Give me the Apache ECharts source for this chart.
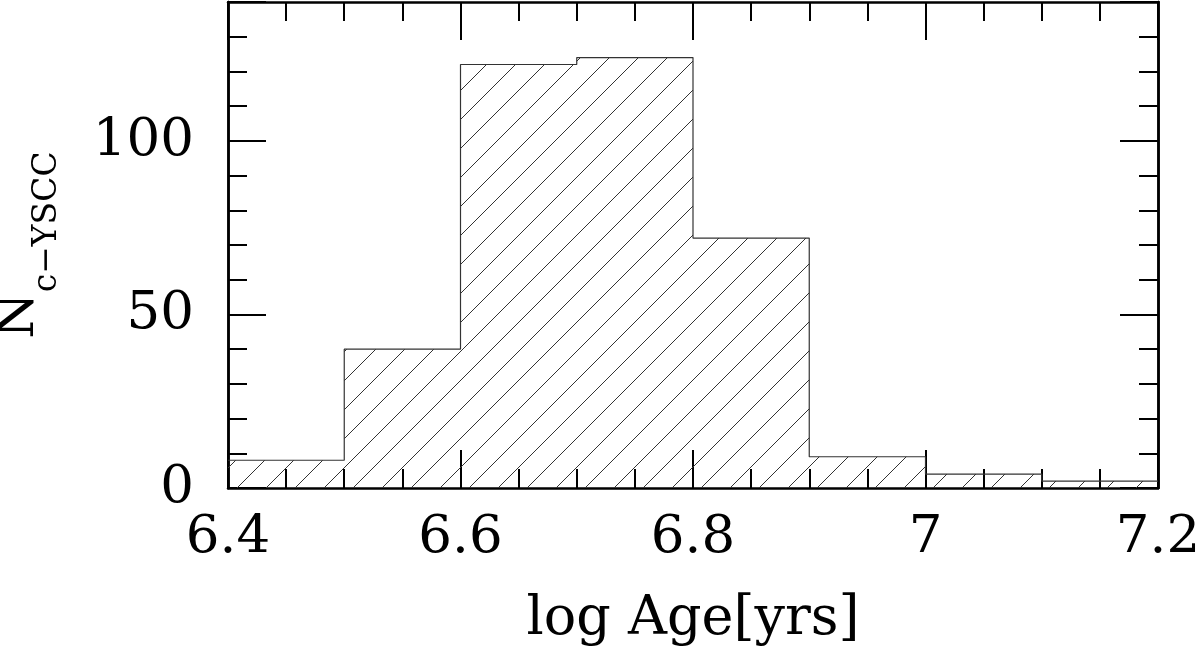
<!DOCTYPE html>
<html>
<head>
<meta charset="utf-8">
<style>
  html, body { margin: 0; padding: 0; background: #fff; }
  #main { width: 1200px; height: 653px; }
</style>
<script src="https://cdn.jsdelivr.net/npm/echarts@6/dist/echarts.min.js"></script>
</head>
<body>
<div id="main"></div>
<script>
// histogram bins (log age) and counts per bin
const binEdges = [6.4, 6.5, 6.6, 6.7, 6.8, 6.9, 7.0, 7.1, 7.2];
const counts = [8, 40, 122, 124, 72, 9, 4, 2];
const xTicks = [6.4, 6.6, 6.8, 7.0, 7.2];

const FONT = 'DejaVu Serif';

// step outline points: each bin starts at its left edge, last point closes at the right edge
const stepData = counts.map((c, i) => [binEdges[i], c]);
stepData.push([binEdges[binEdges.length - 1], counts[counts.length - 1]]);

// diagonal hatch pattern
const hatch = (() => {
    const s = 29;
    const c = document.createElement('canvas');
    c.width = s; c.height = s;
    const ctx = c.getContext('2d');
    ctx.strokeStyle = '#333';
    ctx.lineWidth = 1;
    ctx.beginPath();
    ctx.moveTo(-s, s); ctx.lineTo(s, -s);
    ctx.moveTo(0, s); ctx.lineTo(s, 0);
    ctx.moveTo(0, 2 * s); ctx.lineTo(2 * s, 0);
    ctx.stroke();
    return c;
})();

const frameLine = { show: true, onZero: false, lineStyle: { color: '#000', width: 2.5 } };

const xBase = (pos, labels) => ({
    type: 'value',
    position: pos,
    min: 6.4,
    max: 7.2,
    interval: 0.2,
    axisLine: frameLine,
    axisTick: { show: true, inside: true, length: 38, lineStyle: { color: '#000', width: 2 } },
    minorTick: { show: true, splitNumber: 4, length: 19, lineStyle: { color: '#000', width: 2 } },
    splitLine: { show: false },
    minorSplitLine: { show: false },
    axisLabel: {
        show: labels,
        margin: 24,
        fontFamily: FONT,
        fontSize: 53,
        color: '#000',
        formatter: (v) => {
            const t = xTicks.find(x => Math.abs(x - v) < 1e-6);
            return t === undefined ? '' : String(+t.toFixed(1));
        }
    }
});

const yBase = (pos, interval, len, labels) => ({
    type: 'value',
    position: pos,
    min: 0,
    max: 140,
    interval: interval,
    axisLine: frameLine,
    axisTick: { show: true, inside: true, length: len, lineStyle: { color: '#000', width: 2 } },
    splitLine: { show: false },
    axisLabel: {
        show: labels,
        margin: 34,
        fontFamily: FONT,
        fontSize: 53,
        color: '#000',
        formatter: (v) => (v % 50 === 0 ? String(v) : '')
    }
});

var chartDom = document.getElementById('main');
var myChart = echarts.init(chartDom);
var option;

option = {
    animation: false,
    backgroundColor: '#fff',
    grid: { left: 228, right: 42, top: 2, bottom: 165, containLabel: false, outerBoundsMode: 'none' },
    xAxis: [
        Object.assign(xBase('bottom', true), {
            name: 'log Age[yrs]',
            nameLocation: 'middle',
            nameGap: 105,
            nameMoveOverlap: false,
            nameTextStyle: { fontFamily: FONT, fontSize: 54, color: '#000' }
        }),
        xBase('top', false)
    ],
    yAxis: [
        yBase('left', 10, 19, false),
        Object.assign(yBase('left', 50, 38, true), {
            name: '{n|N}{s|c\u2212YSCC}',
            nameLocation: 'middle',
            nameRotate: 90,
            nameGap: 164,
            nameMoveOverlap: false,
            nameTextStyle: {
                color: '#000',
                rich: {
                    n: { fontFamily: FONT, fontSize: 53, color: '#000', verticalAlign: 'bottom', padding: [0, 0, 18, 0] },
                    s: { fontFamily: FONT, fontSize: 33, color: '#000', verticalAlign: 'bottom' }
                }
            }
        }),
        yBase('right', 10, 19, false),
        yBase('right', 50, 38, false)
    ],
    series: [
        {
            type: 'line',
            xAxisIndex: 0,
            yAxisIndex: 0,
            step: 'end',
            data: stepData,
            showSymbol: false,
            symbol: 'none',
            lineStyle: { color: '#333', width: 1.2 },
            areaStyle: { color: { image: hatch, repeat: 'repeat' }, opacity: 1 },
            z: 1
        }
    ]
};

option && myChart.setOption(option);
</script>
</body>
</html>
